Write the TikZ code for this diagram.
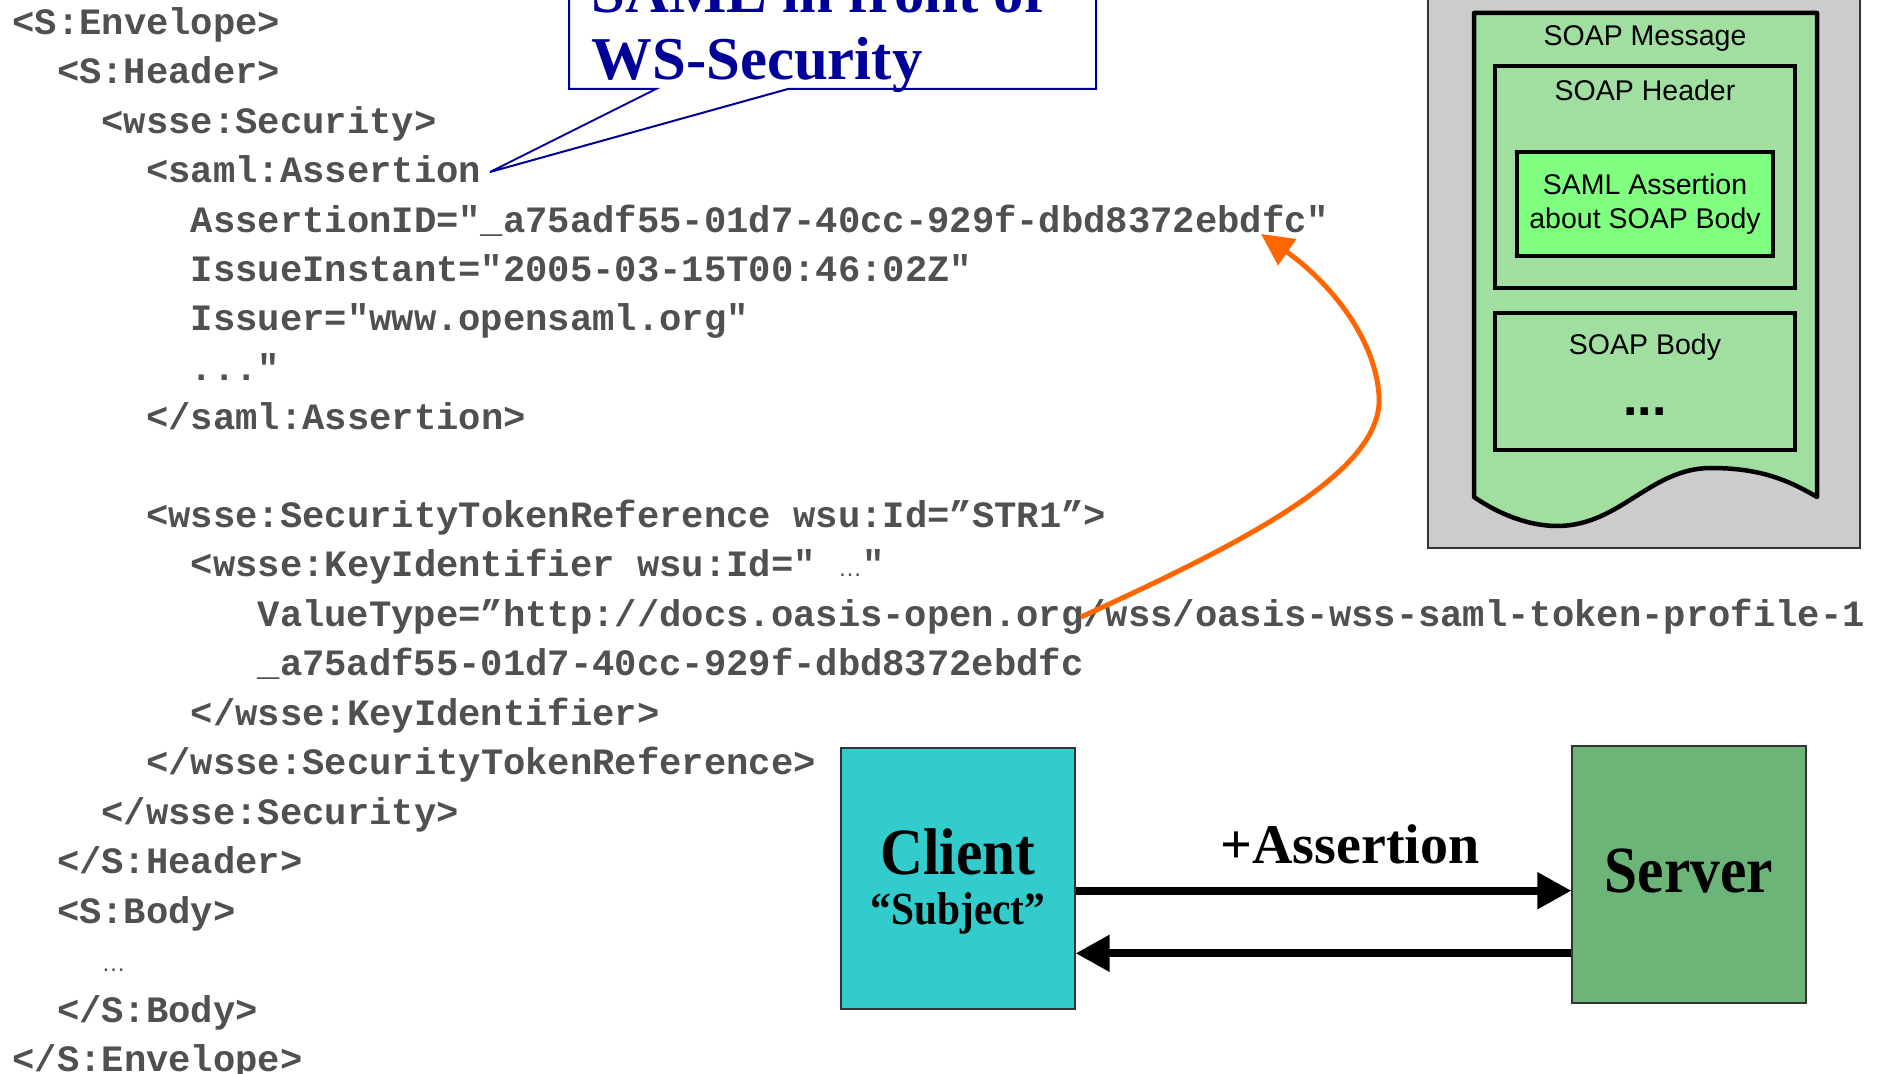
\documentclass[tikz,border=0pt]{standalone}
\usepackage{fontspec}
\setmainfont{Liberation Serif}
\newfontfamily\codefont{Liberation Mono}[Ligatures=TeXOff]
\newfontfamily\soapfont{Liberation Sans}
\newfontfamily\boxfont{Liberation Serif}[FakeStretch=0.9]
\usetikzlibrary{positioning, arrows.meta}
\definecolor{codegray}{RGB}{80,80,80}
\definecolor{callblue}{RGB}{0,0,153}
\definecolor{pagegreen}{RGB}{160,223,160}
\definecolor{samlgreen}{RGB}{128,255,128}
\definecolor{panelgray}{RGB}{204,204,204}
\definecolor{clientcyan}{RGB}{51,204,204}
\definecolor{servergreen}{RGB}{108,180,120}
\definecolor{linkorange}{RGB}{255,102,0}
\newcommand{\smalldots}{{\soapfont\mdseries\fontsize{12}{12}\selectfont …}}
\tikzset{
code/.style={anchor=base west, inner sep=0pt, text=codegray, font=\codefont\bfseries\fontsize{18.6}{20}\selectfont}, % xml lines
callbox/.style={draw=callblue, fill=white, line width=1pt},
calltext/.style={inner sep=0pt, align=left, text=callblue, font=\bfseries\fontsize{30.4}{33.5}\selectfont},
soapbox/.style={draw=black, fill=pagegreen, line width=2.25pt, inner sep=0pt},
soaptext/.style={inner sep=0pt, font=\soapfont\fontsize{14.25}{17}\selectfont},
party/.style={draw=black!80, line width=0.6pt, minimum width=117pt, minimum height=130.5pt},
bigname/.style={inner sep=0pt, font=\boxfont\bfseries\fontsize{33}{36}\selectfont},
bigarrow/.style={line width=4pt, -{Triangle[length=17pt, width=17.5pt]}},
}

\begin{document}
\begin{tikzpicture}[x=0.5pt, y=-0.5pt]
    \useasboundingbox (0,0) rectangle (1883,1074);
    \clip (0,0) rectangle (1883,1074);
    % the xml listing
    \node[code] (l0) at (12,34.5) {<S:Envelope>};
    \node[code] (l1) at (56.6,84) {<S:Header>};
    \node[code] (l2) at (101.2,133.5) {<wsse:Security>};
    \node[code] (l3) at (145.8,183) {<saml:Assertion};
    \node[code] (l4) at (190.4,232.5) {AssertionID="\_a75adf55-01d7-40cc-929f-dbd8372ebdfc"};
    \node[code] (l5) at (190.4,282) {IssueInstant="2005-03-15T00:46:02Z"};
    \node[code] (l6) at (190.4,331) {Issuer="www.opensaml.org"};
    \node[code] (l7) at (190.4,380.5) {..."};
    \node[code] (l8) at (145.8,429.5) {</saml:Assertion>};
    \node[code] (l10) at (145.8,527) {<wsse:SecurityTokenReference wsu:Id=”STR1”>};
    \node[code] (l11) at (190.4,576.5) {<wsse:KeyIdentifier wsu:Id=" \smalldots"};
    \node[code] (l12) at (257.3,626) {ValueType=”http://docs.oasis-open.org/wss/oasis-wss-saml-token-profile-1};
    \node[code] (l13) at (257.3,675.5) {\_a75adf55-01d7-40cc-929f-dbd8372ebdfc};
    \node[code] (l14) at (190.4,725) {</wsse:KeyIdentifier>};
    \node[code] (l15) at (145.8,774.5) {</wsse:SecurityTokenReference>};
    \node[code] (l16) at (101.2,824) {</wsse:Security>};
    \node[code] (l17) at (56.6,873.5) {</S:Header>};
    \node[code] (l18) at (56.6,923) {<S:Body>};
    \node[code] (l19) at (101.2,971) {\smalldots};
    \node[code] (l20) at (56.6,1022) {</S:Body>};
    \node[code] (l21) at (12,1071.5) {</S:Envelope>};

    % callout
    \coordinate (calltip) at (490,172);
    \draw[callbox] (569,-60) -- (569,89) -- (656,89) -- (calltip) -- (788,89) -- (1096,89) -- (1096,-60) -- cycle;
    \node[calltext, anchor=south west] (callout) at (591,93) {SAML in front of\\WS-Security};

    % soap message panel
    \draw[fill=panelgray, draw=black!80, line width=0.8pt] (1428,-10) rectangle (1860,548);
    \draw[fill=pagegreen, draw=black, line width=2.25pt, line join=round] (1474,13) -- (1817,13) -- (1817,497)
        .. controls (1788,480) and (1760,468) .. (1711,468)
        .. controls (1650,468) and (1620,526) .. (1557,526)
        .. controls (1530,526) and (1500,515) .. (1474,497) -- cycle;
    \node[soaptext, anchor=base] (msglabel) at (1645,46) {SOAP Message};
    \node[soapbox, minimum width=150pt, minimum height=111pt] (hdr) at (1645,177) {};
    \node[soaptext, anchor=base] (hdrlabel) at (1645,101) {SOAP Header};
    \node[soapbox, soaptext, fill=samlgreen, align=center, minimum width=128pt, minimum height=52pt] (saml) at (1645,204) {SAML Assertion\\about SOAP Body};
    \node[soapbox, minimum width=150pt, minimum height=68.5pt] (body) at (1645,381.5) {};
    \node[soaptext, anchor=base] (bodylabel) at (1645,355) {SOAP Body};
    \node[inner sep=0pt, anchor=base, font=\soapfont\bfseries\fontsize{26}{26}\selectfont] (bodydots) at (1645,416) {...};

    % client and server
    \node[party, fill=clientcyan] (client) at (958,878.5) {};
    \node[party, fill=servergreen, minimum height=128.5pt] (server) at (1689,874.5) {};
    \node[bigname, anchor=base] (clientname) at (958,874) {Client};
    \node[inner sep=0pt, anchor=base, font=\boxfont\bfseries\fontsize{23}{26}\selectfont] (subject) at (958,924) {“Subject”};
    \node[bigname, anchor=base] (servername) at (1689,892) {Server};
    \node[inner sep=0pt, anchor=base, font=\bfseries\fontsize{28}{30}\selectfont] (assertion) at (1350,863) {+Assertion};
    \coordinate (go) at ([yshift=-6.1pt]client.east);
    \coordinate (back) at ([yshift=-37.4pt]client.east);
    \draw[bigarrow] (go) -- (go -| server.west);
    \draw[bigarrow] (back -| server.west) -- (back);

    % reference from the key identifier to the assertion id
    \coordinate (org) at (1081,617);
    \coordinate (idend) at (1261,234);
    \draw[linkorange, line width=2.5pt, -{Triangle[length=16pt, width=15.5pt]}] (org)
        .. controls (1250,540) and (1385,470) .. (1379,395)
        .. controls (1374,330) and (1320,275) .. (idend);
\end{tikzpicture}
\end{document}
